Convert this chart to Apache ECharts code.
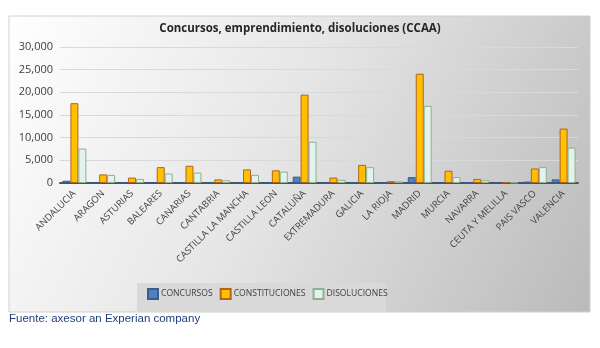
<!DOCTYPE html>
<html><head><meta charset="utf-8">
<script src="https://cdn.jsdelivr.net/npm/echarts@6/dist/echarts.min.js"></script>
<style>html,body{margin:0;padding:0;background:#fff}#c{width:600px;height:348px}</style>
</head><body><div id="c"></div>
<script>
var categories = ['ANDALUCIA','ARAGON','ASTURIAS','BALEARES','CANARIAS','CANTABRIA','CASTILLA LA MANCHA','CASTILLA LEON','CATALUÑA','EXTREMADURA','GALICIA','LA RIOJA','MADRID','MURCIA','NAVARRA','CEUTA Y MELILLA','PAIS VASCO','VALENCIA'];
var concursos      = [500, 200, 150, 200, 200, 100, 200, 200, 1400, 100, 200, 50, 1300, 150, 100, 20, 300, 800];
var constituciones = [17600, 1900, 1200, 3500, 3800, 800, 3000, 2800, 19500, 1200, 4000, 400, 24100, 2700, 900, 150, 3200, 12000];
var disoluciones   = [7600, 1800, 900, 2100, 2300, 600, 1800, 2500, 9100, 700, 3500, 350, 17000, 1300, 600, 120, 3500, 7800];
var yTicks = [0, 5000, 10000, 15000, 20000, 25000, 30000];
var seriesNames = ['CONCURSOS','CONSTITUCIONES','DISOLUCIONES'];
var titleText = 'Concursos, emprendimiento, disoluciones (CCAA)';
var sourceText = 'Fuente: axesor an Experian company';

var chart = echarts.init(document.getElementById('c'), null, {renderer:'canvas'});
var font = 'Open Sans';
chart.setOption({
  animation:false,
  graphic:[
    {type:'rect', z:-10, shape:{x:9,y:16,width:581,height:296},
     style:{fill:new echarts.graphic.LinearGradient(0,0,1,1,[{offset:0,color:'#ffffff'},{offset:0.45,color:'#e6e6e6'},{offset:1,color:'#bababa'}]), stroke:'#d0d0d0', lineWidth:1}},
    {type:'rect', z:-9, shape:{x:137,y:283,width:249,height:29}, style:{fill:'#d9d9d9'}},
    {type:'text', left:9, top:313, style:{text:sourceText, font:'11.5px "Liberation Sans"', fill:'#1f3f7a'}}
  ],
  title:{text:titleText, left:'center', top:18, textStyle:{fontFamily:font, fontSize:11.5, fontWeight:'bold', color:'#262626'}},
  legend:{top:283, left:142, itemWidth:10, itemHeight:10, itemGap:7, icon:'rect',
    textStyle:{fontFamily:font, fontSize:8.6, color:'#404040', padding:[0,0,0,-2]},
    data:seriesNames},
  grid:{left:60, right:22, top:47, bottom:165, containLabel:false},
  xAxis:{type:'category', data:categories,
    axisLine:{lineStyle:{color:'#44546a', width:2}}, axisTick:{show:false},
    axisLabel:{interval:0, rotate:45, fontFamily:font, fontSize:9.5, color:'#404040', margin:9}},
  yAxis:{type:'value', min:0, max:30000, interval:5000,
    axisLine:{show:false}, axisTick:{show:false},
    splitLine:{lineStyle:{color:'#d9d9d9'}},
    axisLabel:{fontFamily:font, fontSize:11, color:'#404040', margin:7,
      formatter:function(v){return yTicks.indexOf(v)>=0 ? v.toLocaleString('en-US') : '';}}},
  series:[
    {name:seriesNames[0], type:'bar', data:concursos, barGap:'0%', barCategoryGap:'17%',
     itemStyle:{color:'#4f81bd', borderColor:'#385d8a', borderWidth:1}},
    {name:seriesNames[1], type:'bar', data:constituciones,
     itemStyle:{color:'#ffc000', borderColor:'#b5621c', borderWidth:1}},
    {name:seriesNames[2], type:'bar', data:disoluciones,
     itemStyle:{color:'#e3f2ee', borderColor:'#8fb08a', borderWidth:1}}
  ]
});
</script></body></html>
